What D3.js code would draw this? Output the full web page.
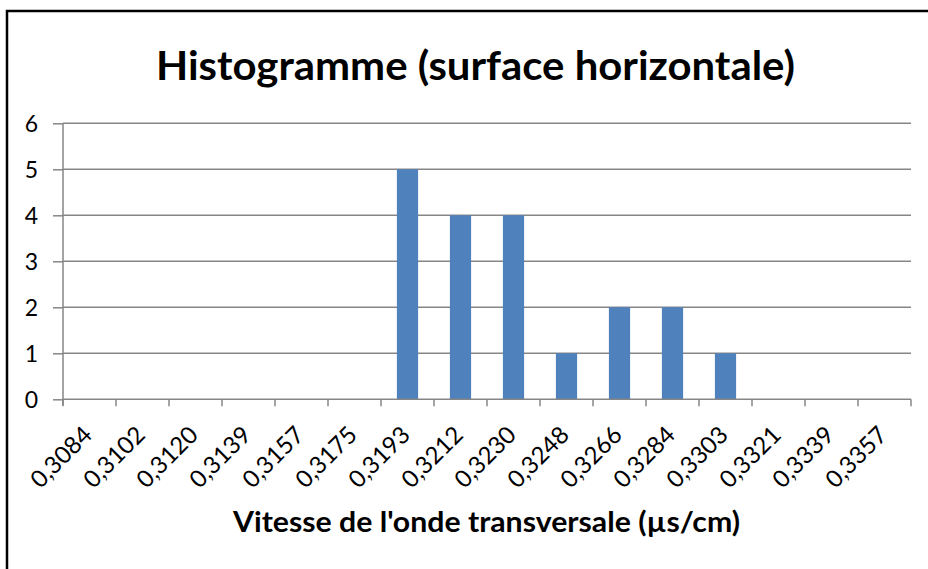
<!DOCTYPE html>
<html>
<head>
<meta charset="utf-8">
<script src="https://cdn.jsdelivr.net/npm/d3@7"></script>
<style>
  html, body { margin: 0; padding: 0; background: #fff; }
  svg { display: block; }
</style>
</head>
<body>
<svg id="chart" width="928" height="569"></svg>
<script>
// Class intervals (transverse wave speed) and the number of readings in each
const categories = ["0,3084", "0,3102", "0,3120", "0,3139", "0,3157", "0,3175", "0,3193", "0,3212",
                    "0,3230", "0,3248", "0,3266", "0,3284", "0,3303", "0,3321", "0,3339", "0,3357"];
const counts = [0, 0, 0, 0, 0, 0, 5, 4, 4, 1, 2, 2, 1, 0, 0, 0];
const yTicks = [0, 1, 2, 3, 4, 5, 6];

const titleMain = "Histogramme (surface horizontale)";
const xTitle = "Vitesse de l'onde transversale (µs/cm)";

const svg = d3.select("#chart");
const font = "Lato, 'Open Sans', 'DejaVu Sans', sans-serif";
const gridColor = "#868686";
const barColor = "#4F81BD";

const plot = { left: 63, right: 911, top: 123.3, bottom: 399.3 };

// Chart frame (continues past the right and bottom edges)
svg.append("rect")
  .attr("x", 7).attr("y", 11)
  .attr("width", 1000).attr("height", 1000)
  .attr("fill", "#fff")
  .attr("stroke", "#000")
  .attr("stroke-width", 2.5);

// Scales
const x = d3.scaleBand()
  .domain(categories)
  .range([plot.left, plot.right])
  .paddingInner(0)
  .paddingOuter(0);

const xBar = d3.scaleBand()
  .domain(categories)
  .range([plot.left, plot.right])
  .paddingInner(0.6)
  .paddingOuter(0.3);

const y = d3.scaleLinear()
  .domain([0, 6])
  .range([plot.bottom, plot.top]);

// Horizontal gridlines
svg.append("g")
  .selectAll("line")
  .data(yTicks.filter(d => d > 0))
  .join("line")
  .attr("x1", plot.left).attr("x2", plot.right)
  .attr("y1", d => y(d)).attr("y2", d => y(d))
  .attr("stroke", gridColor)
  .attr("stroke-width", 1.5);

// Bars
svg.append("g")
  .selectAll("rect")
  .data(categories.map((c, i) => ({ c, v: counts[i] })))
  .join("rect")
  .attr("x", d => xBar(d.c))
  .attr("width", xBar.bandwidth())
  .attr("y", d => y(d.v))
  .attr("height", d => y(0) - y(d.v))
  .attr("fill", barColor);

// Y axis
const yAxis = d3.axisLeft(y)
  .tickValues(yTicks)
  .tickSize(10)
  .tickPadding(15)
  .tickFormat(d3.format("d"));

const gy = svg.append("g")
  .attr("transform", `translate(${plot.left},0)`)
  .call(yAxis);
gy.select(".domain").attr("stroke", gridColor).attr("stroke-width", 1.5)
  .attr("d", `M0,${plot.top}V${plot.bottom + 6}`);
gy.selectAll(".tick line").attr("stroke", gridColor).attr("stroke-width", 1.5);
gy.selectAll(".tick text")
  .attr("fill", "#000")
  .attr("font-family", font)
  .attr("font-size", 23)
  .attr("dy", "0.36em");

// X axis: ticks on the class boundaries, labels on the class centres
const edges = categories.map(c => x(c)).concat([plot.right]);
svg.append("line")
  .attr("x1", plot.left).attr("x2", plot.right)
  .attr("y1", plot.bottom).attr("y2", plot.bottom)
  .attr("stroke", gridColor).attr("stroke-width", 1.5);
svg.append("g")
  .selectAll("line")
  .data(edges)
  .join("line")
  .attr("x1", d => d).attr("x2", d => d)
  .attr("y1", plot.bottom).attr("y2", plot.bottom + 7)
  .attr("stroke", gridColor).attr("stroke-width", 1.5);

svg.append("g")
  .selectAll("text")
  .data(categories)
  .join("text")
  .attr("transform", d => `translate(${x(d) + x.bandwidth() / 2 + 4},${plot.bottom + 37}) rotate(-45)`)
  .attr("text-anchor", "end")
  .attr("font-family", font)
  .attr("font-size", 24)
  .attr("fill", "#000")
  .text(d => d);

// Chart title
svg.append("text")
  .attr("x", 156).attr("y", 80)
  .attr("font-family", font)
  .attr("font-weight", "bold")
  .attr("font-size", 41)
  .attr("fill", "#000")
  .attr("textLength", 639)
  .attr("lengthAdjust", "spacingAndGlyphs")
  .text(titleMain);

// X axis title
svg.append("text")
  .attr("x", 233).attr("y", 532)
  .attr("font-family", font)
  .attr("font-weight", "bold")
  .attr("font-size", 28)
  .attr("fill", "#000")
  .attr("textLength", 507)
  .attr("lengthAdjust", "spacingAndGlyphs")
  .text(xTitle);
</script>
</body>
</html>
